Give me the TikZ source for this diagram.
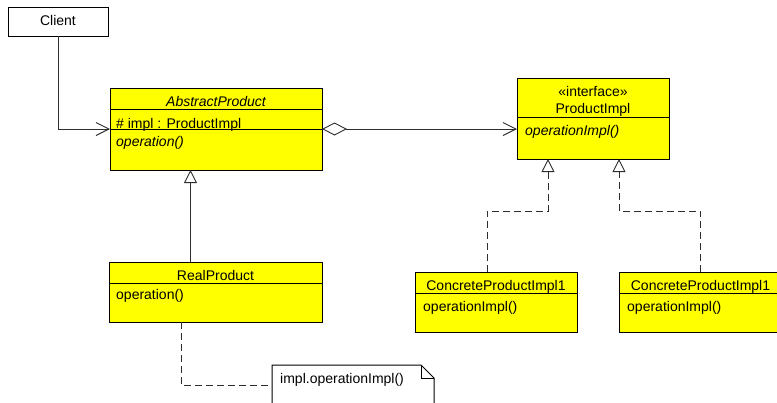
\documentclass[tikz,border=0pt]{standalone}
\usepackage{fontspec}
\setmainfont{Liberation Sans}
\usetikzlibrary{arrows.meta,calc}
\definecolor{umlyellow}{RGB}{255,255,0}
\definecolor{edgecol}{RGB}{45,45,45}
\begin{document}
\begin{tikzpicture}[x=1pt,y=-1pt, font=\fontsize{14}{16}\selectfont,
  box/.style={draw=black, fill=umlyellow, line width=1pt, inner sep=0pt, outer sep=0pt},
  sepline/.style={draw=black, line width=1pt},
  txt/.style={inner sep=0pt, anchor=base},
  ltxt/.style={inner sep=0pt, anchor=base west},
  conn/.style={draw=edgecol, line width=0.9pt},
  dashconn/.style={conn, dash pattern=on 7pt off 4pt},
  assocarrow/.style={-{Straight Barb[length=13pt,width=13pt]}},
  genarrow/.style={-{Triangle[fill=white,length=13pt,width=13pt]}},
  aggrarrow/.style={{Diamond[fill=white,length=25pt,width=13pt]}-{Straight Barb[length=13pt,width=13pt]}}
]
\useasboundingbox (0,0) rectangle (777,402);

% boxes
\node[box, fill=white, minimum width=100pt, minimum height=29pt] (client) at (58,21.5) {};
\node[box, minimum width=212pt, minimum height=82pt] (ap) at (216,129) {};
\draw[sepline] ($(ap.north west)+(0,21)$) -- ($(ap.north east)+(0,21)$);
\draw[sepline] ($(ap.north west)+(0,41)$) -- ($(ap.north east)+(0,41)$);

\node[box, minimum width=152pt, minimum height=81pt] (pi) at (593,118.5) {};
\draw[sepline] ($(pi.north west)+(0,39)$) -- ($(pi.north east)+(0,39)$);

\node[box, minimum width=213pt, minimum height=60pt] (rp) at (215.5,292) {};
\draw[sepline] ($(rp.north west)+(0,21)$) -- ($(rp.north east)+(0,21)$);

\node[box, minimum width=162pt, minimum height=60pt] (c1) at (496,302) {};
\draw[sepline] ($(c1.north west)+(0,21)$) -- ($(c1.north east)+(0,21)$);

\node[box, minimum width=163pt, minimum height=60pt] (c2) at (700.5,302) {};
\draw[sepline] ($(c2.north west)+(0,21)$) -- ($(c2.north east)+(0,21)$);

% note
\node[inner sep=0pt, outer sep=0pt, minimum width=162pt, minimum height=40pt, anchor=north west] (note) at (272,365) {};
\draw[draw=black, line width=1pt, fill=white] (note.south west) -- (note.north west) -- ($(note.north east)+(-13,0)$) -- ($(note.north east)+(0,13)$) -- (note.south east);
\draw[draw=black, line width=1pt] ($(note.north east)+(-13,0)$) -- ($(note.north east)+(-13,13)$) -- ($(note.north east)+(0,13)$);

% connectors
\draw[conn, assocarrow] (client.south) |- (ap.west);
\draw[conn, aggrarrow] (ap.east) -- (ap.east -| pi.west);

\coordinate (rpup) at ($(rp.north)+(-25,0)$);
\draw[conn, genarrow] (rpup) -- (rpup |- ap.south);

\coordinate (c1up) at ($(c1.north)+(-9,0)$);
\coordinate (pil) at ($(pi.south)+(-45,0)$);
\draw[dashconn, genarrow] (c1up) -- ++(0,-61) -| (pil);

\coordinate (pir) at ($(pi.south)+(26,0)$);
\draw[dashconn, genarrow] (c2.north) -- ++(0,-61) -| (pir);

\coordinate (rpdn) at ($(rp.south)+(-34.5,0)$);
\draw[dashconn] (rpdn) |- (note.west);

% texts
\node[txt] (clientlbl) at (58,25) {Client};
\node[txt] (aptitle) at (216,106) {\itshape AbstractProduct};
\node[ltxt] (apattr) at (116,128) {\# impl : ProductImpl};
\node[ltxt] (apop) at (116,146) {\itshape operation()};
\node[txt] (pistereo) at (593,96) {«interface»};
\node[txt] (pititle) at (593,113) {ProductImpl};
\node[ltxt] (piop) at (525,135) {\itshape operationImpl()};
\node[txt] (rptitle) at (215.5,280) {RealProduct};
\node[ltxt] (rpop) at (116,299) {operation()};
\node[txt] (c1title) at (496,290) {ConcreteProductImpl1};
\node[ltxt] (c1op) at (423,311) {operationImpl()};
\node[txt] (c2title) at (700.5,290) {ConcreteProductImpl1};
\node[ltxt] (c2op) at (627,311) {operationImpl()};
\node[ltxt] (notetxt) at (280,383) {impl.operationImpl()};
\end{tikzpicture}
\end{document}
